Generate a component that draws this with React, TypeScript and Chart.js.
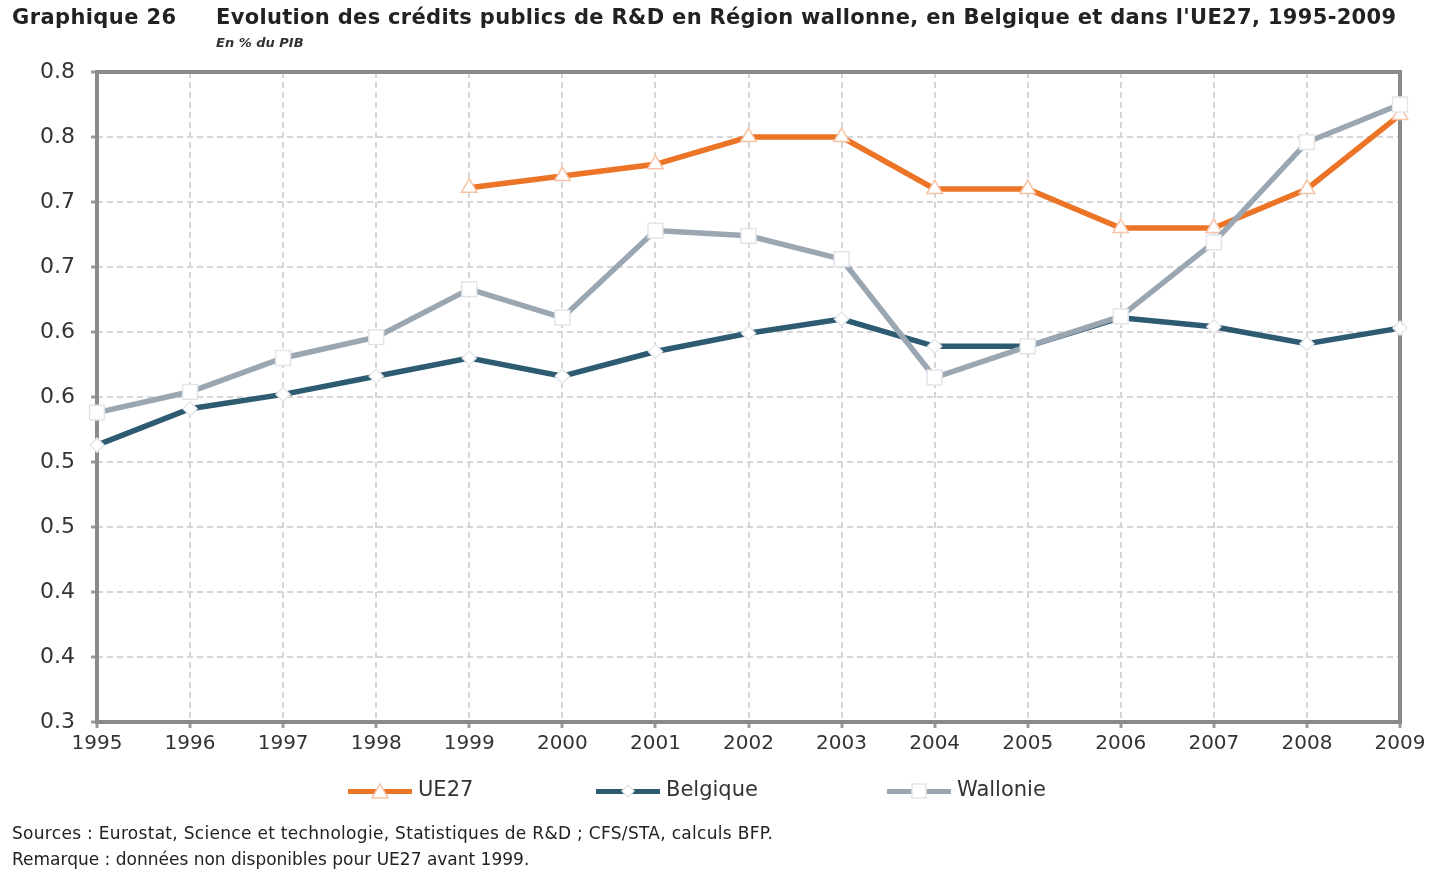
import React, { useEffect, useRef } from "react";
import { Chart, registerables } from "chart.js";

Chart.register(...registerables);

const years = ["1995", "1996", "1997", "1998", "1999", "2000", "2001", "2002", "2003", "2004", "2005", "2006", "2007", "2008", "2009"];
const ue27 = [null, null, null, null, 0.711, 0.72, 0.729, 0.75, 0.75, 0.71, 0.71, 0.68, 0.68, 0.71, 0.767];
const belgique = [0.513, 0.541, 0.552, 0.566, 0.58, 0.566, 0.585, 0.599, 0.61, 0.589, 0.589, 0.611, 0.604, 0.591, 0.603];
const wallonie = [0.538, 0.554, 0.58, 0.596, 0.633, 0.611, 0.678, 0.674, 0.656, 0.565, 0.589, 0.612, 0.669, 0.746, 0.775];
const yTickLabels = ["0.3", "0.4", "0.4", "0.5", "0.5", "0.6", "0.6", "0.7", "0.7", "0.8", "0.8"];

const C_UE = "#EC7426";
const C_BE = "#2C5B72";
const C_WA = "#9BA6B3";
const FONT = "'DejaVu Sans', 'Noto Sans', sans-serif";

const boxPlugin = {
  id: "box",
  beforeDatasetsDraw(chart: any) {
    const { ctx, chartArea: a } = chart;
    ctx.save();
    ctx.strokeStyle = "#8a8a8a";
    ctx.lineWidth = 4;
    ctx.strokeRect(a.left, a.top, a.right - a.left, a.bottom - a.top);
    ctx.restore();
  },
};

function LegendItem({ color, border, label, shape, left }: any) {
  let marker: any;
  if (shape === "tri") {
    marker = (
      <svg width="18" height="16" style={{ position: "absolute", left: 23, top: -6 }}>
        <polygon points="9,1 17,15 1,15" fill="#fff" stroke={border} strokeWidth="1.5" />
      </svg>
    );
  } else if (shape === "dia") {
    marker = (
      <svg width="14" height="14" style={{ position: "absolute", left: 25, top: -5 }}>
        <polygon points="7,1 13,7 7,13 1,7" fill="#fff" stroke={border} strokeWidth="1.5" />
      </svg>
    );
  } else {
    marker = (
      <svg width="16" height="16" style={{ position: "absolute", left: 24, top: -6 }}>
        <rect x="1" y="1" width="14" height="14" fill="#fff" stroke={border} strokeWidth="1.5" />
      </svg>
    );
  }
  return (
    <div style={{ position: "absolute", left, top: 776, height: 30, whiteSpace: "nowrap" }}>
      <div style={{ position: "absolute", left: 0, top: 13, width: 64, height: 5, background: color }}>{marker}</div>
      <span style={{ position: "absolute", left: 70, top: 1, fontFamily: FONT, fontSize: 21, color: "#333" }}>{label}</span>
    </div>
  );
}

export default function App() {
  const ref = useRef<HTMLCanvasElement>(null);
  useEffect(() => {
    if (!ref.current) return;
    const gridOpts = {
      color: "#d6d6d6",
      lineWidth: 2,
      tickColor: "#9a9a9a",
      tickLength: 6,
      tickBorderDash: [],
      tickWidth: 3,
    };
    const borderOpts = { display: false, dash: [6, 4] };
    const chart = new Chart(ref.current, {
      type: "line",
      data: {
        labels: years,
        datasets: [
          {
            label: "UE27",
            data: ue27,
            borderColor: C_UE,
            backgroundColor: "#fff",
            borderWidth: 5.5,
            pointStyle: "triangle",
            pointRadius: 9,
            pointBackgroundColor: "#fff",
            pointBorderColor: "#F7C3A6",
            pointBorderWidth: 1.5,
            order: 2,
            spanGaps: false,
          },
          {
            label: "Belgique",
            data: belgique,
            borderColor: C_BE,
            backgroundColor: "#fff",
            borderWidth: 5.5,
            pointStyle: "rectRot",
            pointRadius: 7,
            pointBackgroundColor: "#fff",
            pointBorderColor: "#E4E8EB",
            pointBorderWidth: 1.5,
            order: 1,
          },
          {
            label: "Wallonie",
            data: wallonie,
            borderColor: C_WA,
            backgroundColor: "#fff",
            borderWidth: 5.5,
            pointStyle: "rect",
            pointRadius: 10.5,
            pointBackgroundColor: "#fff",
            pointBorderColor: "#E2E5EA",
            pointBorderWidth: 1.5,
            order: 0,
          },
        ],
      },
      options: {
        responsive: false,
        animation: false,
        layout: { padding: { left: 0, top: 72, right: 41, bottom: 0 } },
        plugins: { legend: { display: false }, tooltip: { enabled: false }, title: { display: false } },
        scales: {
          x: {
            offset: false,
            grid: gridOpts as any,
            border: borderOpts as any,
            ticks: {
              color: "#333",
              font: { family: FONT, size: 20 },
              padding: 4,
              maxRotation: 0,
              autoSkip: false,
            },
            afterFit: (s: any) => {
              s.height = 149;
            },
          },
          y: {
            min: 0.3,
            max: 0.8,
            grid: gridOpts as any,
            border: borderOpts as any,
            ticks: {
              stepSize: 0.05,
              color: "#333",
              font: { family: FONT, size: 22 },
              padding: 16,
              callback: (_v: any, i: number) => yTickLabels[i],
            },
            afterFit: (s: any) => {
              s.width = 97;
            },
          },
        },
      },
      plugins: [boxPlugin],
    });
    return () => chart.destroy();
  }, []);

  return (
    <div style={{ position: "absolute", left: 0, top: 0, width: 1441, height: 871, background: "#fff" }}>
      <canvas ref={ref} width={1441} height={871} style={{ position: "absolute", left: 0, top: 0 }} />
      <div style={{ position: "absolute", left: 12, top: 5, fontFamily: FONT, fontWeight: 700, fontSize: 21, letterSpacing: 0.4, color: "#222", whiteSpace: "nowrap" }}>
        Graphique 26
      </div>
      <div style={{ position: "absolute", left: 216, top: 5, fontFamily: FONT, fontWeight: 700, fontSize: 21, letterSpacing: 0.32, color: "#222", whiteSpace: "nowrap" }}>
        Evolution des crédits publics de R&amp;D en Région wallonne, en Belgique et dans l'UE27, 1995-2009
      </div>
      <div style={{ position: "absolute", left: 216, top: 35, fontFamily: FONT, fontWeight: 700, fontStyle: "italic", fontSize: 13, color: "#333", whiteSpace: "nowrap" }}>
        En % du PIB
      </div>
      <LegendItem color={C_UE} border="#F7C3A6" label="UE27" shape="tri" left={348} />
      <LegendItem color={C_BE} border="#E4E8EB" label="Belgique" shape="dia" left={596} />
      <LegendItem color={C_WA} border="#E2E5EA" label="Wallonie" shape="rect" left={887} />
      <div style={{ position: "absolute", left: 12, top: 823, fontFamily: FONT, fontSize: 17, letterSpacing: 0.3, color: "#222", whiteSpace: "nowrap" }}>
        Sources : Eurostat, Science et technologie, Statistiques de R&amp;D ; CFS/STA, calculs BFP.
      </div>
      <div style={{ position: "absolute", left: 12, top: 849, fontFamily: FONT, fontSize: 17, color: "#222", whiteSpace: "nowrap" }}>
        Remarque : données non disponibles pour UE27 avant 1999.
      </div>
    </div>
  );
}
